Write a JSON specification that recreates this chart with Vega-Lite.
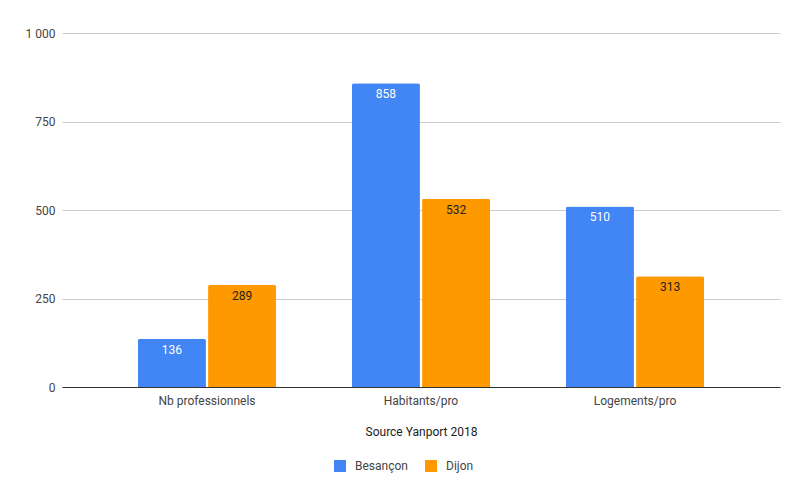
{
  "$schema": "https://vega.github.io/schema/vega-lite/v6.json",
  "width": 718,
  "height": 354,
  "autosize": {"type": "none"},
  "padding": {"left": 62, "top": 33, "right": 25, "bottom": 111},
  "config": {
    "font": "Roboto",
    "view": {"stroke": null},
    "axis": {"labelFont": "Roboto", "titleFont": "Roboto"}
  },
  "data": {
    "values": [
      {"cat": "Nb professionnels", "city": "Besançon", "v": 136},
      {"cat": "Nb professionnels", "city": "Dijon", "v": 289},
      {"cat": "Habitants/pro", "city": "Besançon", "v": 858},
      {"cat": "Habitants/pro", "city": "Dijon", "v": 532},
      {"cat": "Logements/pro", "city": "Besançon", "v": 510},
      {"cat": "Logements/pro", "city": "Dijon", "v": 313}
    ]
  },
  "encoding": {
    "x": {
      "field": "cat", "type": "nominal", "sort": null,
      "scale": {"paddingInner": 0.355, "paddingOuter": 0.355},
      "axis": {
        "title": "Source Yanport 2018", "labelAngle": 0, "ticks": false,
        "domainColor": "#333", "labelColor": "#444", "labelFontSize": 12,
        "labelPadding": 8, "titleFontWeight": "normal", "titleFontSize": 12,
        "titleColor": "#222", "titlePadding": 20
      }
    },
    "xOffset": {"field": "city", "type": "nominal", "scale": {"paddingInner": 0.03}},
    "y": {
      "field": "v", "type": "quantitative",
      "scale": {"domain": [0, 1000]},
      "axis": {
        "title": null, "values": [0, 250, 500, 750, 1000], "domain": false, "ticks": false,
        "gridColor": "#cccccc", "labelColor": "#444", "labelFontSize": 12, "labelPadding": 7,
        "labelExpr": "replace(format(datum.value, ','), ',', ' ')"
      }
    }
  },
  "layer": [
    {
      "mark": {"type": "bar", "cornerRadiusTopLeft": 2, "cornerRadiusTopRight": 2},
      "encoding": {
        "color": {
          "field": "city", "type": "nominal",
          "scale": {"domain": ["Besançon", "Dijon"], "range": ["#4285F4", "#FF9900"]},
          "legend": {
            "title": null, "orient": "none", "direction": "horizontal",
            "legendX": 272, "legendY": 427, "symbolType": "square", "symbolSize": 144,
            "symbolStrokeWidth": 0, "labelFont": "Roboto", "labelFontSize": 12,
            "labelColor": "#444", "columnPadding": 17, "labelOffset": 9
          }
        }
      }
    },
    {
      "mark": {"type": "text", "baseline": "top", "dy": 6, "fontSize": 12, "font": "Roboto"},
      "encoding": {
        "text": {"field": "v", "type": "quantitative"},
        "color": {
          "condition": {"test": "datum.city === 'Besançon'", "value": "#ffffff"},
          "value": "#222222"
        }
      }
    }
  ]
}
